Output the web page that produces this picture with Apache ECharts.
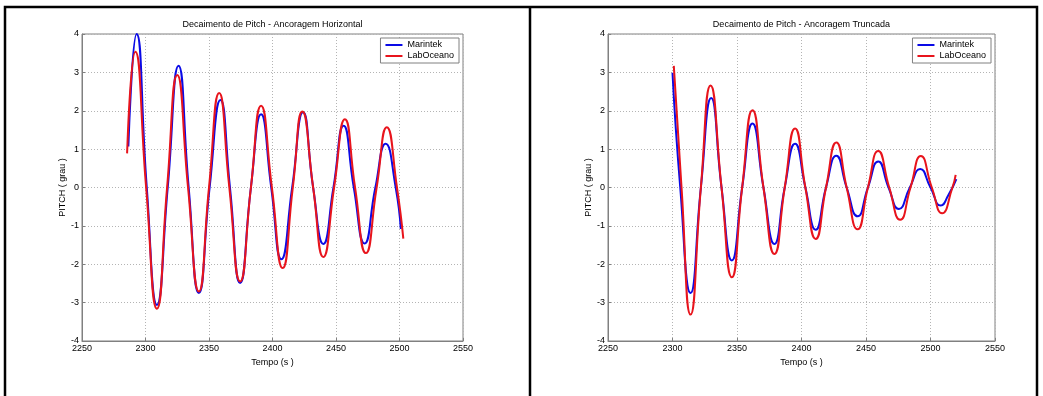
<!DOCTYPE html>
<html><head><meta charset="utf-8">
<script src="https://cdn.jsdelivr.net/npm/echarts@6/dist/echarts.min.js"></script>
<style>html,body{margin:0;padding:0;background:#fff}#c{width:1043px;height:396px}</style>
</head><body><div id="c"></div>
<script>
// ---- data (extrema and zero crossings) ----
const titles = ['Decaimento de Pitch - Ancoragem Horizontal', 'Decaimento de Pitch - Ancoragem Truncada'];
const seriesNames = ['Marintek', 'LabOceano'];
const xTicks = [2250, 2550, 50];
const yTicks = [-4, 4, 1];

const leftMarintekT = [2286.5, 2293, 2301, 2309, 2317.5, 2326, 2334, 2342, 2350.5, 2359, 2366.5, 2374.5, 2383, 2391, 2399, 2407, 2415.5, 2424, 2432, 2440, 2448, 2456, 2464, 2472.5, 2481, 2489, 2497, 2501];
const leftMarintekV = [1.07, 4.0, 0, -3.06, 0, 3.17, 0, -2.75, 0, 2.28, 0, -2.49, 0, 1.91, 0, -1.87, 0, 1.96, 0, -1.47, 0, 1.61, 0, -1.46, 0, 1.14, 0, -1.08];
const leftLabT = [2285.5, 2292, 2300.5, 2309, 2317, 2325, 2333.5, 2342, 2350, 2358, 2366, 2374.5, 2383, 2391, 2399.5, 2408, 2416, 2423.5, 2432, 2440, 2448.5, 2457, 2465, 2473.5, 2482, 2490, 2498, 2503];
const leftLabV = [0.89, 3.54, 0, -3.16, 0, 2.93, 0, -2.71, 0, 2.46, 0, -2.45, 0, 2.13, 0, -2.10, 0, 1.98, 0, -1.81, 0, 1.78, 0, -1.71, 0, 1.57, 0, -1.33];

const rightMarintekT = [2300, 2306, 2314, 2322, 2330, 2338, 2346, 2354, 2362, 2370.5, 2379, 2387, 2395, 2403, 2411, 2419, 2427, 2435, 2443.5, 2451.5, 2459.5, 2467.5, 2475.5, 2484, 2492, 2500, 2508, 2514, 2520];
const rightMarintekV = [2.99, 0, -2.75, 0, 2.33, 0, -1.90, 0, 1.67, 0, -1.47, 0, 1.14, 0, -1.10, 0, 0.83, 0, -0.75, 0, 0.68, 0, -0.56, 0, 0.48, 0, -0.47, -0.19, 0.22];
const rightLabT = [2301, 2307, 2314, 2322, 2329.5, 2338, 2346, 2354, 2362, 2370.5, 2379, 2387, 2395, 2403, 2411, 2419, 2427, 2435, 2443.5, 2451.5, 2459.5, 2468, 2476.5, 2484.5, 2492.5, 2501, 2509, 2517, 2519.5];
const rightLabV = [3.17, 0, -3.31, 0, 2.66, 0, -2.34, 0, 2.01, 0, -1.73, 0, 1.54, 0, -1.34, 0, 1.17, 0, -1.09, 0, 0.95, 0, -0.84, 0, 0.82, 0, -0.67, 0, 0.33];

// ---- chart ----
const zip = (t, v) => t.map((x, i) => [x, v[i]]);
const colors = ['#0a0ae6', '#e8141c'];
const font = 'Arial, "Liberation Sans", sans-serif';
const grids = [
  {left: 82, top: 34, width: 381, height: 307},
  {left: 608, top: 34, width: 387, height: 307}
];
const panelData = [
  [zip(leftMarintekT, leftMarintekV), zip(leftLabT, leftLabV)],
  [zip(rightMarintekT, rightMarintekV), zip(rightLabT, rightLabV)]
];

const option = {
  backgroundColor: '#fff',
  animation: false,
  title: grids.map((g, i) => ({
    text: titles[i], left: g.left + g.width / 2, top: 20, padding: 0, textAlign: 'center',
    textStyle: {fontFamily: font, fontSize: 9, fontWeight: 'normal', color: '#000'}
  })),
  legend: grids.map((g, i) => ({
    data: seriesNames, orient: 'vertical', right: 1043 - (g.left + g.width - 4), top: 38,
    icon: 'rect', itemWidth: 17, itemHeight: 2, itemGap: 1,
    backgroundColor: '#fff', borderColor: '#808080', borderWidth: 1, borderRadius: 0,
    padding: [2, 5, 2, 5],
    textStyle: {fontFamily: font, fontSize: 9, color: '#000', lineHeight: 10}
  })),
  grid: grids.map(g => Object.assign({show: true, borderColor: '#808080', borderWidth: 1, backgroundColor: '#fff'}, g)),
  xAxis: grids.map((g, i) => ({
    type: 'value', gridIndex: i, min: xTicks[0], max: xTicks[1], interval: xTicks[2],
    name: 'Tempo (s )', nameLocation: 'middle', nameGap: 15,
    nameTextStyle: {fontFamily: font, fontSize: 9, color: '#000'},
    axisLine: {show: true, onZero: false, lineStyle: {color: '#808080'}},
    axisTick: {show: true, inside: true, length: 3, lineStyle: {color: '#808080'}},
    axisLabel: {fontFamily: font, fontSize: 9, color: '#000', margin: 3, showMinLabel: true, showMaxLabel: true, formatter: v => String(v)},
    splitLine: {show: true, lineStyle: {type: [1, 2], color: '#b4b4b4'}}
  })),
  yAxis: grids.map((g, i) => ({
    type: 'value', gridIndex: i, min: yTicks[0], max: yTicks[1], interval: yTicks[2],
    name: 'PITCH ( grau )', nameLocation: 'middle', nameGap: 12,
    nameTextStyle: {fontFamily: font, fontSize: 9, color: '#000'},
    axisLine: {show: true, onZero: false, lineStyle: {color: '#808080'}},
    axisTick: {show: true, inside: true, length: 3, lineStyle: {color: '#808080'}},
    axisLabel: {fontFamily: font, fontSize: 9, color: '#000', margin: 3, formatter: v => String(v)},
    splitLine: {show: true, lineStyle: {type: [1, 2], color: '#b4b4b4'}}
  })),
  series: [],
  graphic: [
    {type: 'polyline', shape: {points: [[5, 400], [5, 7], [1037, 7], [1037, 400]]}, style: {stroke: '#000', lineWidth: 2.5, fill: null}, z: 100},
    {type: 'line', shape: {x1: 530, y1: 7, x2: 530, y2: 400}, style: {stroke: '#000', lineWidth: 2.5}, z: 100}
  ]
};
panelData.forEach((pd, i) => {
  pd.forEach((d, j) => {
    option.series.push({
      type: 'line', name: seriesNames[j], xAxisIndex: i, yAxisIndex: i, data: d,
      smooth: 0.55, showSymbol: false, symbol: 'none',
      lineStyle: {color: colors[j], width: 2}, itemStyle: {color: colors[j]}
    });
  });
});
const chart = echarts.init(document.getElementById('c'), null, {renderer: 'canvas'});
chart.setOption(option);
</script></body></html>
